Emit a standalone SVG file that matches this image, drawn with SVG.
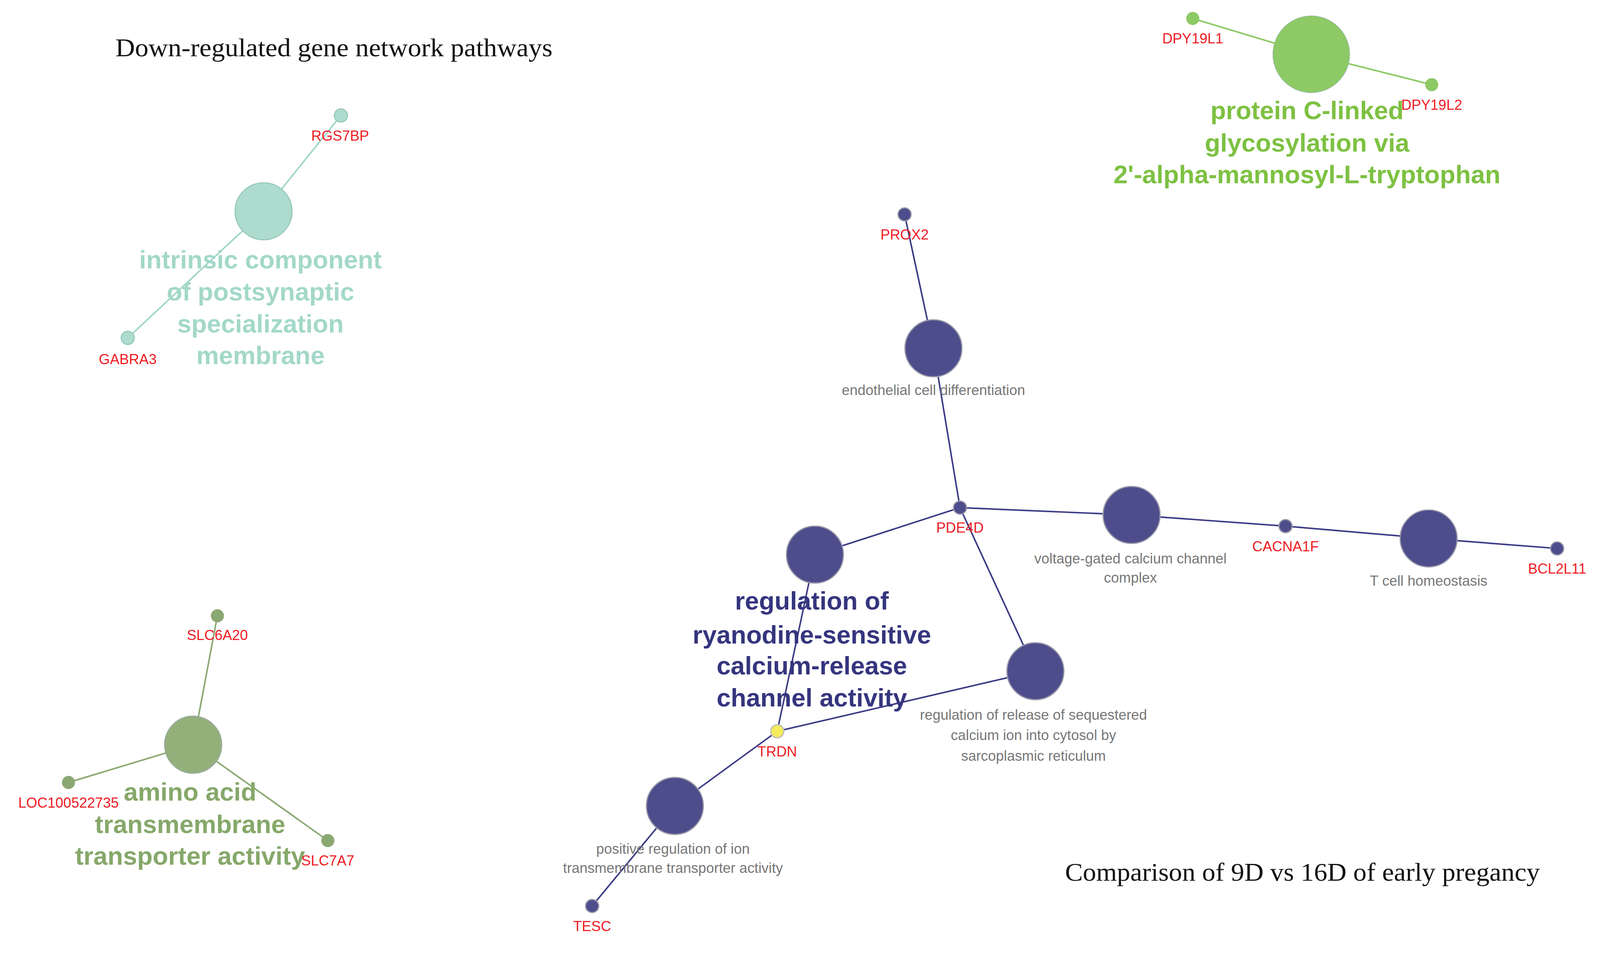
<svg xmlns="http://www.w3.org/2000/svg" width="4141" height="2439" viewBox="0 0 4141 2439">
<style>
text{font-family:"Liberation Sans",Arial,sans-serif;text-anchor:middle}
.g{fill:#ee1c24;font-size:37px;transform:translate(0px,12px)}
.d{fill:#777;font-size:37px;transform:translate(0px,12px)}
.t{font-family:"Liberation Serif","Times New Roman",serif;font-size:66px;fill:#111;text-anchor:start}
.b{font-weight:bold;font-size:66px}
.p{fill:#4e4d8c;stroke:#9999aa;stroke-width:3}
.pe{stroke:#3d3c86;stroke-width:4;fill:none}
.te{stroke:#9fd6c6;stroke-width:4}
.ge{stroke:#8dc965;stroke-width:4}
.oe{stroke:#8aa872;stroke-width:4}
</style>
<rect width="4141" height="2439" fill="#fff"/>
<g transform="scale(0.985)">
<text class="t" x="300" y="146" textLength="1136" lengthAdjust="spacingAndGlyphs">Down-regulated gene network pathways</text>
<text class="t" x="2768" y="2288" textLength="1234" lengthAdjust="spacingAndGlyphs">Comparison of 9D vs 16D of early pregancy</text>
<g id="edges">
<line class="te" x1="685" y1="549" x2="886" y2="300"/>
<line class="te" x1="685" y1="549" x2="332" y2="878"/>
<line class="ge" x1="3408" y1="141" x2="3100" y2="48"/>
<line class="ge" x1="3408" y1="141" x2="3721" y2="220"/>
<line class="oe" x1="502" y1="1935" x2="565" y2="1600"/>
<line class="oe" x1="502" y1="1935" x2="178" y2="2033"/>
<line class="oe" x1="502" y1="1935" x2="852" y2="2184"/>
<g class="pe">
<line x1="2351" y1="557" x2="2426" y2="905"/>
<line x1="2426" y1="905" x2="2495" y2="1319"/>
<line x1="2495" y1="1319" x2="2941" y2="1338"/>
<line x1="2941" y1="1338" x2="3341" y2="1367"/>
<line x1="3341" y1="1367" x2="3713" y2="1399"/>
<line x1="3713" y1="1399" x2="4047" y2="1425"/>
<line x1="2495" y1="1319" x2="2118" y2="1441"/>
<line x1="2495" y1="1319" x2="2691" y2="1744"/>
<line x1="2118" y1="1441" x2="2020" y2="1900"/>
<line x1="2691" y1="1744" x2="2020" y2="1900"/>
<line x1="2020" y1="1900" x2="1754" y2="2094"/>
<line x1="1754" y1="2094" x2="1539" y2="2354"/>
</g>
</g>
<g id="n-teal"><circle cx="685" cy="549" r="74" fill="#addccf" stroke="#99c9bb" stroke-width="3"/>
<text class="b" fill="#a3d8c9" x="677" y="697">intrinsic component</text><text class="b" fill="#a3d8c9" x="677" y="781">of postsynaptic</text><text class="b" fill="#a3d8c9" x="677" y="864">specialization</text><text class="b" fill="#a3d8c9" x="677" y="946">membrane</text></g>
<g id="n-RGS7BP"><circle cx="886" cy="300" r="17" fill="#addccf" stroke="#99c9bb" stroke-width="3"/><text class="g" x="884" y="353">RGS7BP</text></g>
<g id="n-GABRA3"><circle cx="332" cy="878" r="17" fill="#addccf" stroke="#99c9bb" stroke-width="3"/><text class="g" x="332" y="934">GABRA3</text></g>
<g id="n-green"><circle cx="3408" cy="141" r="100" fill="#8dc965" stroke="#9ac"/>
<text class="b" fill="#7dc142" x="3397" y="310">protein C-linked</text><text class="b" fill="#7dc142" x="3397" y="394">glycosylation via</text><text class="b" fill="#7dc142" x="3397" y="476">2'-alpha-mannosyl-L-tryptophan</text></g>
<g id="n-DPY19L1"><circle cx="3100" cy="48" r="17" fill="#8dc965"/><text class="g" x="3100" y="101">DPY19L1</text></g>
<g id="n-DPY19L2"><circle cx="3721" cy="220" r="17" fill="#8dc965"/><text class="g" x="3721" y="273">DPY19L2</text></g>
<g id="n-olive"><circle cx="502" cy="1935" r="74" fill="#93b07a" stroke="#9a9" stroke-width="3"/>
<text class="b" fill="#86a86a" x="494" y="2080">amino acid</text><text class="b" fill="#86a86a" x="494" y="2164">transmembrane</text><text class="b" fill="#86a86a" x="494" y="2247">transporter activity</text></g>
<g id="n-SLC6A20"><circle cx="565" cy="1600" r="17" fill="#8aa872"/><text class="g" x="565" y="1651">SLC6A20</text></g>
<g id="n-LOC"><circle cx="178" cy="2033" r="17" fill="#8aa872"/><text class="g" x="178" y="2086">LOC100522735</text></g>
<g id="n-SLC7A7"><circle cx="852" cy="2184" r="17" fill="#8aa872"/><text class="g" x="852" y="2237">SLC7A7</text></g>
<g id="n-PROX2"><circle class="p" cx="2351" cy="557" r="17"/><text class="g" x="2351" y="610">PROX2</text></g>
<g id="n-endo"><circle class="p" cx="2426" cy="905" r="74"/><text class="d" x="2426" y="1014">endothelial cell differentiation</text></g>
<g id="n-PDE4D"><circle class="p" cx="2495" cy="1319" r="17"/><text class="g" x="2495" y="1372">PDE4D</text></g>
<g id="n-vgcc"><circle class="p" cx="2941" cy="1338" r="74"/><text class="d" x="2938" y="1452">voltage-gated calcium channel</text><text class="d" x="2938" y="1502">complex</text></g>
<g id="n-CACNA1F"><circle class="p" cx="3341" cy="1367" r="17"/><text class="g" x="3341" y="1420">CACNA1F</text></g>
<g id="n-tcell"><circle class="p" cx="3713" cy="1399" r="74"/><text class="d" x="3713" y="1510">T cell homeostasis</text></g>
<g id="n-BCL2L11"><circle class="p" cx="4047" cy="1425" r="17"/><text class="g" x="4047" y="1478">BCL2L11</text></g>
<g id="n-ryan"><circle class="p" cx="2118" cy="1441" r="74"/>
<text class="b" fill="#35357f" x="2110" y="1584">regulation of</text><text class="b" fill="#35357f" x="2110" y="1672">ryanodine-sensitive</text><text class="b" fill="#35357f" x="2110" y="1752">calcium-release</text><text class="b" fill="#35357f" x="2110" y="1836">channel activity</text></g>
<g id="n-release"><circle class="p" cx="2691" cy="1744" r="74"/><text class="d" x="2686" y="1858">regulation of release of sequestered</text><text class="d" x="2686" y="1911">calcium ion into cytosol by</text><text class="d" x="2686" y="1965">sarcoplasmic reticulum</text></g>
<g id="n-TRDN"><circle cx="2020" cy="1900" r="17" fill="#f3eb5c" stroke="#bbb" stroke-width="3"/><text class="g" x="2020" y="1953">TRDN</text></g>
<g id="n-pos"><circle class="p" cx="1754" cy="2094" r="74"/><text class="d" x="1749" y="2206">positive regulation of ion</text><text class="d" x="1749" y="2256">transmembrane transporter activity</text></g>
<g id="n-TESC"><circle class="p" cx="1539" cy="2354" r="17"/><text class="g" x="1539" y="2407">TESC</text></g>
</g>
</svg>
